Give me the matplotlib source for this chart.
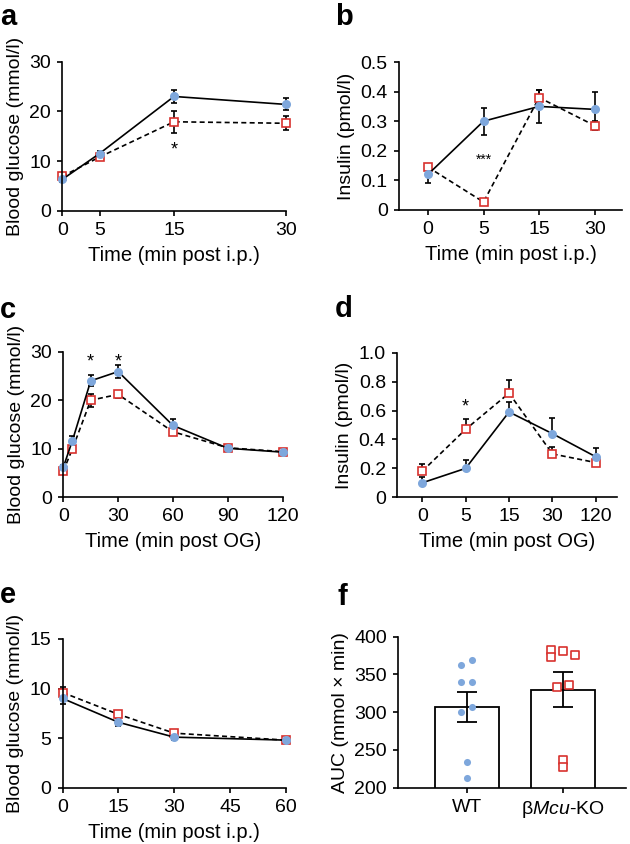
import numpy as np
import matplotlib.pyplot as plt

plt.rcParams['font.family'] = ['Liberation Sans', 'DejaVu Sans']
plt.rcParams['mathtext.fontset'] = 'custom'
plt.rcParams['mathtext.rm'] = 'Liberation Sans'
plt.rcParams['mathtext.it'] = 'Liberation Sans:italic'
plt.rcParams['font.size'] = 14

blue = '#7ea7dc'
red = '#d8312e'

# a: glucose after i.p. glucose
a_time = [0, 5, 15, 30]
a_wt = [6.3, 11.5, 23.0, 21.4]
a_wt_err = [0.5, 0.6, 1.3, 1.2]
a_ko = [6.9, 10.8, 17.9, 17.6]
a_ko_err = [0.5, 0.6, 2.2, 1.4]

# b: insulin after i.p. glucose (categorical time)
b_time = ['0', '5', '15', '30']
b_wt = [0.12, 0.30, 0.35, 0.34]
b_wt_err = [0.03, 0.045, 0.055, 0.06]
b_ko = [0.145, 0.027, 0.38, 0.285]
b_ko_err = [0.01, 0.004, 0.025, 0.015]

# c: glucose after oral gavage
c_time = [0, 5, 15, 30, 60, 90, 120]
c_wt = [6.2, 11.7, 24.0, 25.9, 14.8, 10.1, 9.3]
c_wt_err = [0.4, 1.0, 1.1, 1.3, 1.4, 0.4, 0.4]
c_ko = [5.4, 10.0, 20.0, 21.2, 13.5, 10.2, 9.4]
c_ko_err = [0.4, 0.5, 1.3, 0.8, 0.6, 0.3, 0.3]

# d: insulin after oral gavage (categorical time, upper SEM only)
d_time = ['0', '5', '15', '30', '120']
d_wt = [0.10, 0.20, 0.59, 0.44, 0.28]
d_wt_err = [0.04, 0.06, 0.07, 0.11, 0.06]
d_ko = [0.18, 0.47, 0.72, 0.30, 0.24]
d_ko_err = [0.05, 0.07, 0.09, 0.05, 0.0]

# e: insulin tolerance
e_time = [0, 15, 30, 60]
e_wt = [9.0, 6.6, 5.1, 4.8]
e_wt_err = [0.6, 0.4, 0.3, 0.1]
e_ko = [9.6, 7.4, 5.5, 4.8]
e_ko_err = [0.6, 0.3, 0.3, 0.1]

# f: AUC
f_groups = ['WT', r'β$\mathit{Mcu}$-KO']
f_mean = [307, 330]
f_sem = [20, 23]
f_wt_pts = [362, 369, 340, 340, 300, 307, 234, 213]
f_wt_jit = [-0.06, 0.06, -0.06, 0.06, -0.06, 0.06, 0.0, 0.0]
f_ko_pts = [382, 373, 381, 376, 333, 336, 237, 228]
f_ko_jit = [-0.12, -0.12, 0.0, 0.13, -0.06, 0.07, 0.0, 0.0]


def style_axes(ax):
    for s in ['top', 'right']:
        ax.spines[s].set_visible(False)
    for s in ['left', 'bottom']:
        ax.spines[s].set_linewidth(1.2)
    ax.tick_params(direction='out', length=3.5, width=1.2, labelsize=14, pad=4.5)


def draw_curves(ax, x, wt, wt_err, ko, ko_err, upper_only=False):
    if upper_only:
        ko_e = [np.zeros(len(ko)), ko_err]
        wt_e = [np.zeros(len(wt)), wt_err]
    else:
        ko_e, wt_e = ko_err, wt_err
    for y, e, ls, mk, mfc, mec, ms in [
            (ko, ko_e, (0, (3, 2)), 's', 'white', red, 5.5),
            (wt, wt_e, '-', 'o', blue, blue, 5.3)]:
        parts = ax.errorbar(x, y, yerr=e, color='black', linestyle=ls, lw=1.2,
                            marker=mk, mfc=mfc, mec=mec, ms=ms, mew=1.2,
                            ecolor='black', elinewidth=1.2, capsize=2.2, capthick=1.2)
        for art in parts.lines[0:1] + tuple(parts.lines[1]) + tuple(parts.lines[2]):
            art.set_clip_on(False)


fig = plt.figure(figsize=(6.3, 8.44), dpi=100)

# a
ax = fig.add_axes([0.0989, 0.7504, 0.3546, 0.1765])
draw_curves(ax, a_time, a_wt, a_wt_err, a_ko, a_ko_err)
ax.set_xlim(0, 30)
ax.set_ylim(0, 30)
ax.set_xticks(a_time)
ax.set_yticks([0, 10, 20, 30])
ax.text(15, 11.3, '*', ha='center', fontsize=13)
ax.set_xlabel('Time (min post i.p.)', fontsize=14.5, labelpad=5)
ax.set_ylabel('Blood glucose (mmol/l)', fontsize=14)
style_axes(ax)

# b
ax = fig.add_axes([0.6333, 0.7512, 0.354, 0.1753])
bx = np.arange(len(b_time))
draw_curves(ax, bx, b_wt, b_wt_err, b_ko, b_ko_err)
ax.set_xlim(-0.52, 3.49)
ax.set_ylim(0, 0.5)
ax.set_xticks(bx, b_time)
ax.set_yticks([0, 0.1, 0.2, 0.3, 0.4, 0.5], ['0', '0.1', '0.2', '0.3', '0.4', '0.5'])
ax.text(1, 0.155, '***', ha='center', fontsize=10)
ax.set_xlabel('Time (min post i.p.)', fontsize=14.5, labelpad=5)
ax.set_ylabel('Insulin (pmol/l)', fontsize=14)
style_axes(ax)

# c
ax = fig.add_axes([0.1005, 0.4108, 0.3482, 0.1725])
draw_curves(ax, c_time, c_wt, c_wt_err, c_ko, c_ko_err)
ax.set_xlim(0, 120)
ax.set_ylim(0, 30)
ax.set_xticks([0, 30, 60, 90, 120])
ax.set_yticks([0, 10, 20, 30])
for t in [15, 30]:
    ax.text(t, 27.0, '*', ha='center', fontsize=13)
ax.set_xlabel('Time (min post OG)', fontsize=14.5, labelpad=5)
ax.set_ylabel('Blood glucose (mmol/l)', fontsize=14)
style_axes(ax)

# d
ax = fig.add_axes([0.6302, 0.4108, 0.3487, 0.1713])
dx = np.arange(len(d_time))
draw_curves(ax, dx, d_wt, d_wt_err, d_ko, d_ko_err, upper_only=True)
ax.set_xlim(-0.58, 4.48)
ax.set_ylim(0, 1.0)
ax.set_xticks(dx, d_time)
ax.set_yticks([0, 0.2, 0.4, 0.6, 0.8, 1.0], ['0', '0.2', '0.4', '0.6', '0.8', '1.0'])
ax.text(1, 0.59, '*', ha='center', fontsize=13)
ax.set_xlabel('Time (min post OG)', fontsize=14.5, labelpad=5)
ax.set_ylabel('Insulin (pmol/l)', fontsize=14)
style_axes(ax)

# e
ax = fig.add_axes([0.0995, 0.0667, 0.354, 0.1762])
draw_curves(ax, e_time, e_wt, e_wt_err, e_ko, e_ko_err)
ax.set_xlim(0, 60)
ax.set_ylim(0, 15)
ax.set_xticks([0, 15, 30, 45, 60])
ax.set_yticks([0, 5, 10, 15])
ax.set_xlabel('Time (min post i.p.)', fontsize=14.5, labelpad=5)
ax.set_ylabel('Blood glucose (mmol/l)', fontsize=14)
style_axes(ax)

# f
ax = fig.add_axes([0.6317, 0.0667, 0.362, 0.1789])
fx = np.arange(len(f_groups))
ax.bar(fx, f_mean, width=0.667, color='white', edgecolor='black', lw=1.3, zorder=1)
ax.errorbar(fx, f_mean, yerr=f_sem, fmt='none', ecolor='black', elinewidth=1.3,
            capsize=7, capthick=1.3, zorder=2)
ax.scatter(fx[0] + np.array(f_wt_jit), f_wt_pts, s=26, color=blue, zorder=3, lw=0)
ax.scatter(fx[1] + np.array(f_ko_jit), f_ko_pts, s=26, marker='s', facecolor='white',
           edgecolor=red, lw=1.2, zorder=3)
ax.set_xlim(-0.715, 1.66)
ax.set_ylim(200, 400)
ax.set_xticks(fx, f_groups)
ax.set_yticks([200, 250, 300, 350, 400])
ax.set_ylabel('AUC (mmol × min)', fontsize=14)
style_axes(ax)

# panel letters
for lab, x, y in [('a', 0.0, 0.970), ('b', 0.532, 0.970), ('c', 0.0, 0.6236),
                  ('d', 0.532, 0.6248), ('e', 0.0, 0.2855), ('f', 0.535, 0.283)]:
    fig.text(x, y, lab, fontsize=21, fontweight='bold', va='baseline')

fig.savefig('out.png', dpi=100)
